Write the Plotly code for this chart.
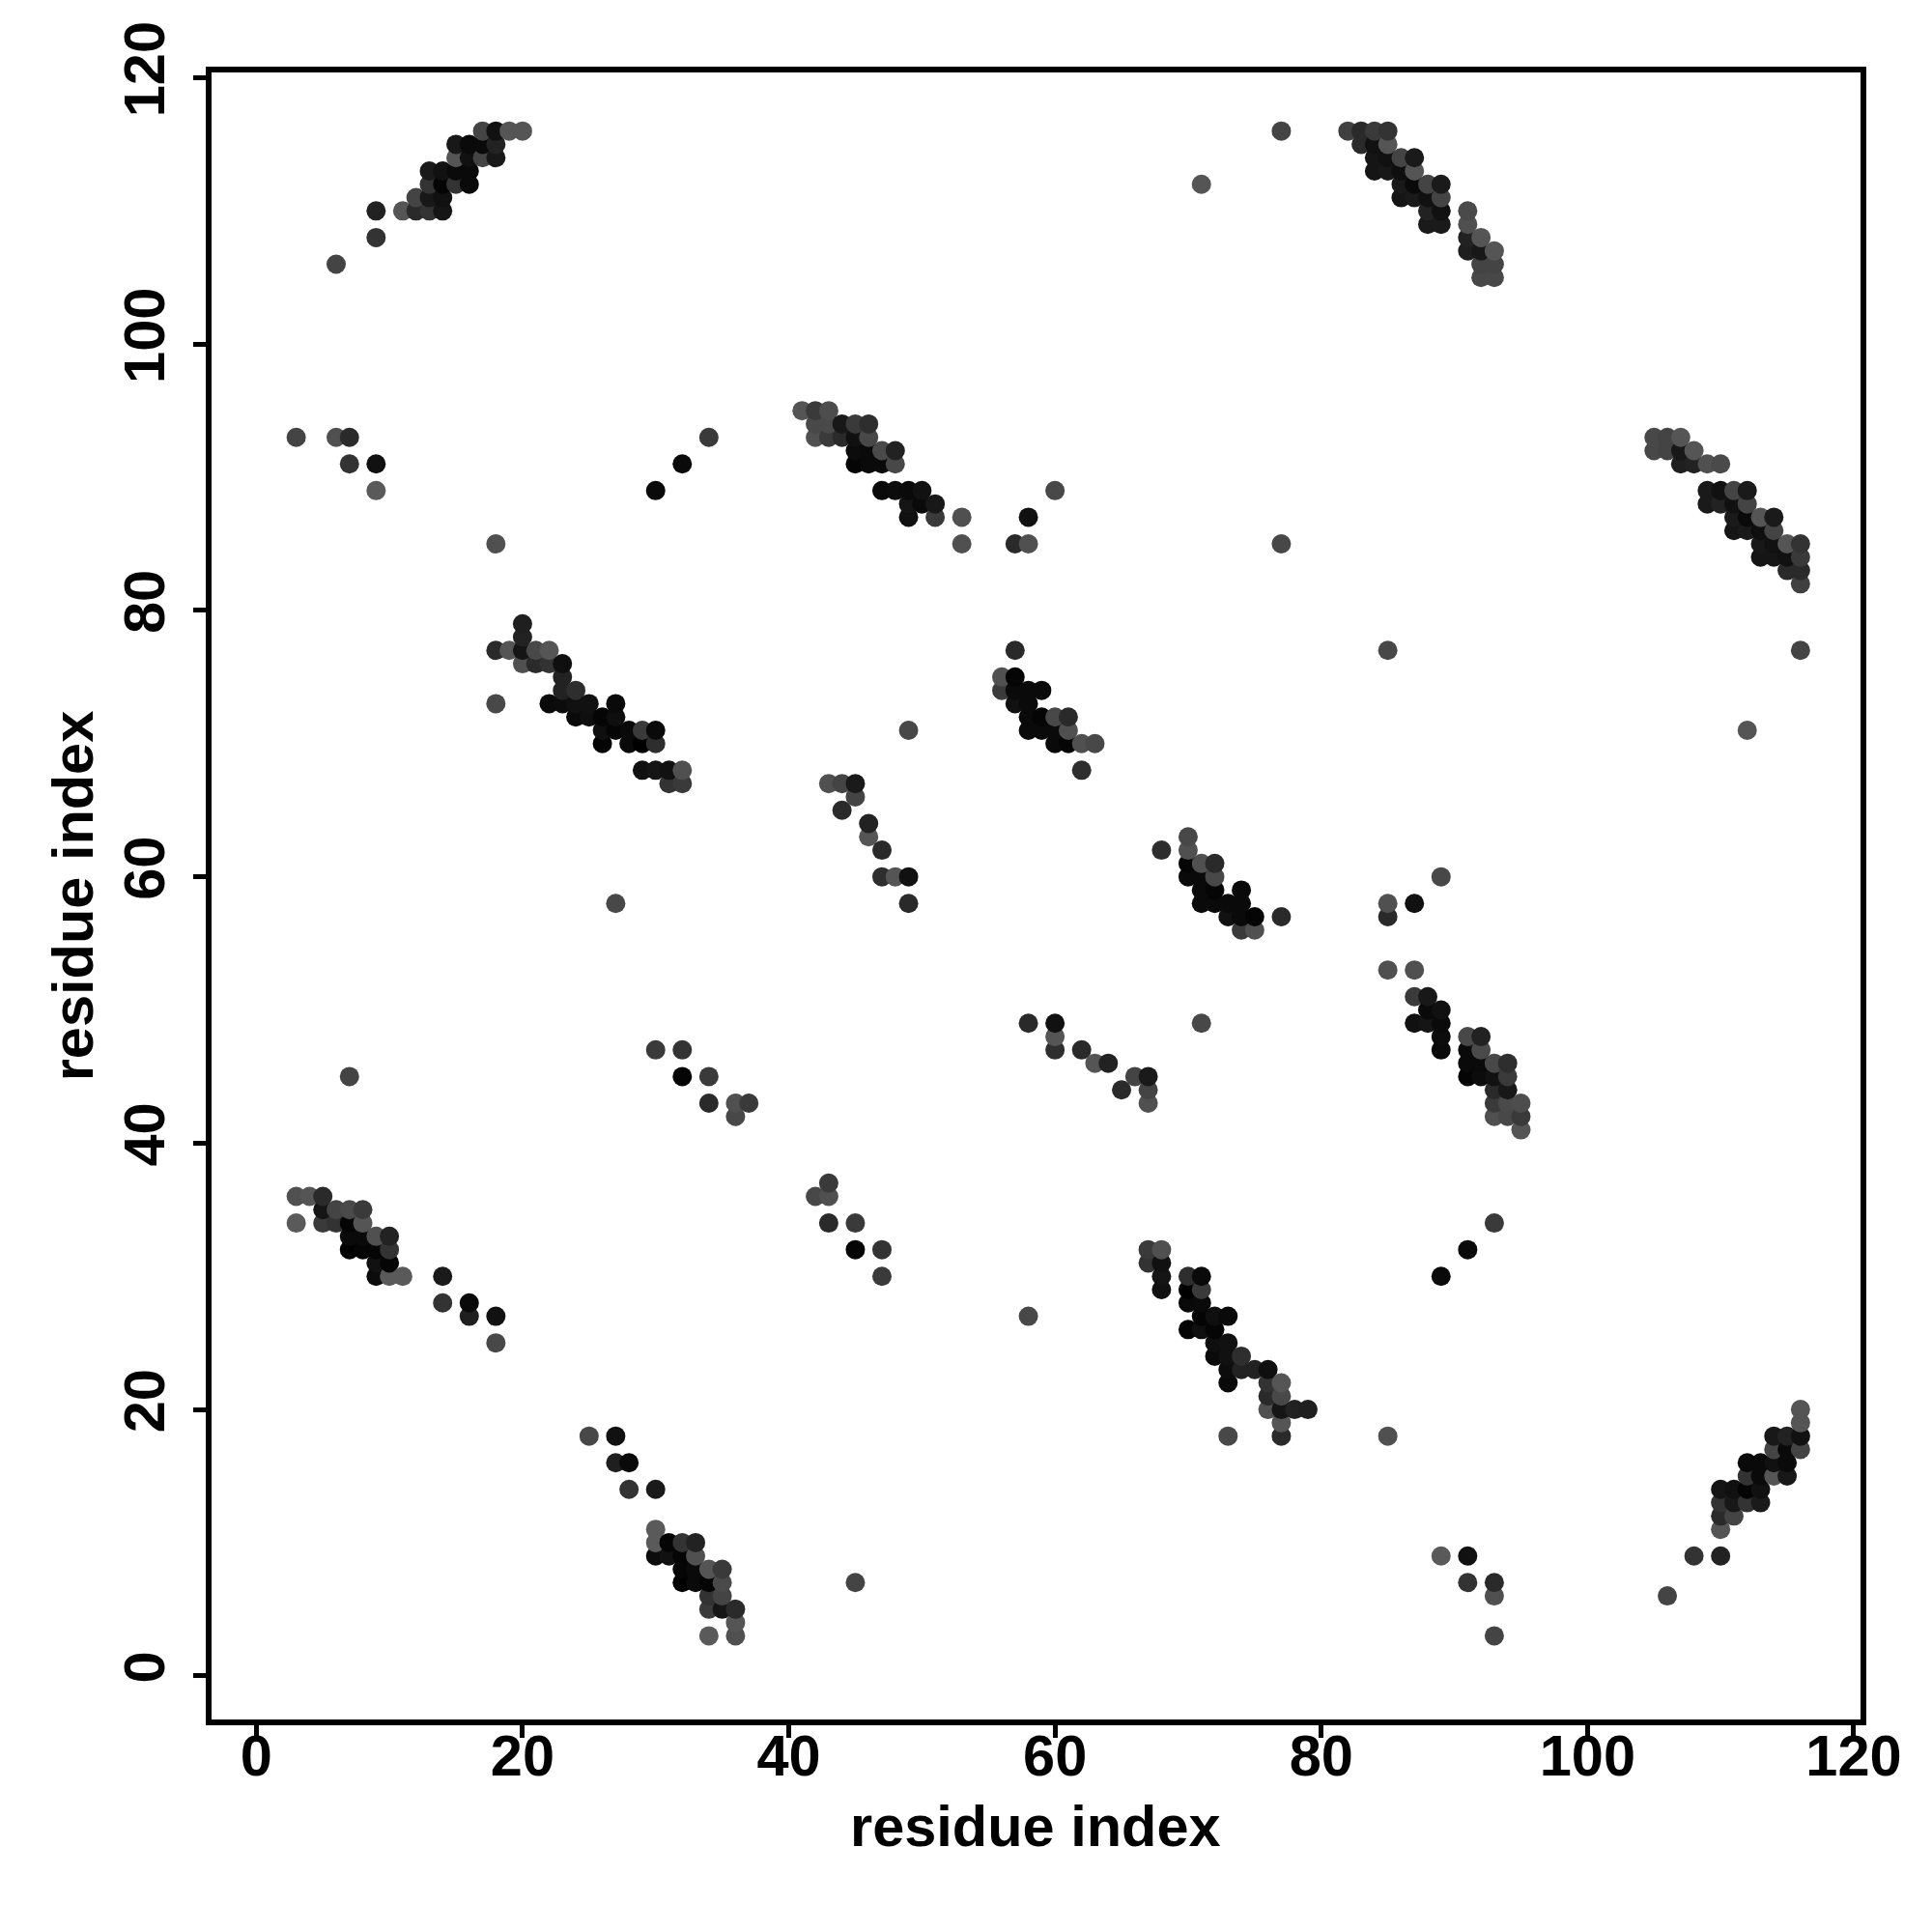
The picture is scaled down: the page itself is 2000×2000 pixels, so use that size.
import plotly.graph_objects as go

# Upper-triangle contacts: residue i < residue j; the map is symmetric.
contact_i = [
 17,18,19,20, 15,16,17,18, 15,16,17,18, 13,14,15,16, 13,14,15,16, 12,13,14, 11,12,13,14, 9, 9, 6,
 82,83,84,85, 83,84,85, 84,85,86,87, 84,85,86,87, 86,87,88,89, 86,87,88,89, 88,89,91, 88,89,91, 91,92, 91,92,93, 92,93, 92,93,
 77, 71,
 41,42,43, 42,43,44,45,46, 42,43,44,45,46, 45,46,47,48, 45,46,47,48, 47,48,49,50, 49,50,51, 49,51,53, 53,
 20, 20, 18,19,20,21,22, 20,21,22,23, 23, 23,24, 18,22,23,24,25,27, 24,25,26,27, 26,27,28,29,30, 26,28,29,30, 29,30,31,32, 31,32,
 27,
 43,44,45, 45, 44, 46, 46, 47, 47,48,49, 49,
 57, 56,57, 56,57,58,59, 57,58, 58,59,60,61, 58,59,60,61, 60,61,62,63, 62,
 3,4,5, 5,6,7,8, 3,5,6,7,8, 7,8,9,10, 7,8,9,10, 9,10, 9,10,11, 14, 14,16, 16,18, 18,
 7, 3,6,7, 7,9, 9, 18,
 30,32,32,34,34,36,36,37,
 30,32,34, 57,58,58,60, 77, 49,
]
contact_j = [
 116,116,116,116, 115,115,115,115, 114,114,114,114, 113,113,113,113, 112,112,112,112, 111,111,111, 110,110,110,110, 110, 108, 106,
 116,116,116,116, 115,115,115, 114,114,114,114, 113,113,113,113, 112,112,112,112, 111,111,111,111, 110,110,110, 109,109,109, 108,108, 107,107,107, 106,106, 105,105,
 116, 112,
 95,95,95, 94,94,94,94,94, 93,93,93,93,93, 92,92,92,92, 91,91,91,91, 89,89,89,89, 88,88,88, 87,87,87, 85,
 79, 78, 77,77,77,77,77, 76,76,76,76, 75, 74,74, 73,73,73,73,73,73, 72,72,72,72, 71,71,71,71,71, 70,70,70,70, 68,68,68,68, 67,67,
 58,
 67,67,67, 66, 65, 64, 63, 62, 60,60,60, 58,
 77, 75,75, 74,74,74,74, 73,73, 72,72,72,72, 71,71,71,71, 70,70,70,70, 68,
 36,36,36, 35,35,35,35, 34,34,34,34,34, 33,33,33,33, 32,32,32,32, 31,31, 30,30,30, 30, 28,28, 27,27, 25,
 45, 93,93,93, 91,91, 89, 85,
 47,47,45,45,43,43,42,43,
 89,91,93, 85,85,87,89, 85, 71,
]
contact_gray = [
 68,17,85,85, 24,10,10,34, 85,17,68,24, 26,17,10,10, 51,5,51,10, 68,24,17, 85,42,51,21, 34, 51, 68,
 64,42,58,51, 42,17,85, 21,17,68,26, 21,24,15,85, 26,10,68,26, 21,26,17,68, 34,17,74, 26,26,80, 34,85, 31,24,85, 68,68, 72,72,
 68, 85,
 85,58,77, 72,74,24,58,46, 80,58,42,17,72, 12,10,74,34, 5,10,10,72, 10,12,10,17, 21,10,24, 17,58,80, 80,
 31, 34, 42,85,21,72,85, 80,42,51,15, 34, 34,46, 72,10,12,17,17,10, 10,15,5,15, 15,5,10,58,10, 5,10,0,46, 17,21,17,80, 51,58,
 72,
 80,68,26, 68, 42, 34, 85, 42, 46,85,17, 42,
 42, 80,5, 58,10,10,10, 17,10, 10,5,72,42, 10,10,10,80, 10,5,80,72, 46,
 80,85,42, 21,68,74,58, 90,58,51,5,85, 10,10,80,34, 0,5,5,51, 17,5, 12,90,90, 26, 51,10, 31,17, 72,
 68, 68,80,42, 51,17, 90, 80,
 58,51,5,58,42,80,72,58,
 10,10,58, 42,80,17,72, 72, 72,
]

tick_values = [0, 20, 40, 60, 80, 100, 120]
axis_label = "residue index"

# Symmetric map: each contact is drawn at (i, j) and at (j, i), ordered by x then y.
contacts = [(i, j, g) for i, j, g in zip(contact_i, contact_j, contact_gray)]
contacts += [(j, i, g) for i, j, g in zip(contact_i, contact_j, contact_gray)]
contacts.sort(key=lambda c: (c[0], c[1]))

fig = go.Figure(go.Scatter(
    x=[c[0] for c in contacts],
    y=[c[1] for c in contacts],
    mode="markers",
    marker=dict(size=20, color=[f"rgb({c[2]},{c[2]},{c[2]})" for c in contacts], line=dict(width=0)),
    hoverinfo="skip",
))

BOLD = dict(family="Liberation Sans", size=59.5, color="black", weight="bold")
axis = dict(
    tickmode="array", tickvals=tick_values, ticks="outside", ticklen=13, tickwidth=5,
    tickcolor="black", showline=True, linecolor="black", linewidth=6, mirror=True,
    showgrid=False, zeroline=False, tickfont=BOLD,
)
fig.update_layout(
    width=2000, height=2000, showlegend=False,
    paper_bgcolor="white", plot_bgcolor="white",
    margin=dict(l=211, r=82, t=67, b=228, autoexpand=False),
    xaxis=dict(range=[-3.36, 120.51], ticklabelstandoff=-32, **axis),
    yaxis=dict(range=[-3.28, 120.4], tickangle=-90, ticklabelstandoff=6,
               title=dict(text=axis_label, font=BOLD, standoff=2), **axis),
    annotations=[dict(text=axis_label, font=BOLD, xref="paper", yref="paper", x=0.4995, y=0,
                      xanchor="center", yanchor="middle", yshift=-110, showarrow=False)],
)
fig.write_html("out.html")
